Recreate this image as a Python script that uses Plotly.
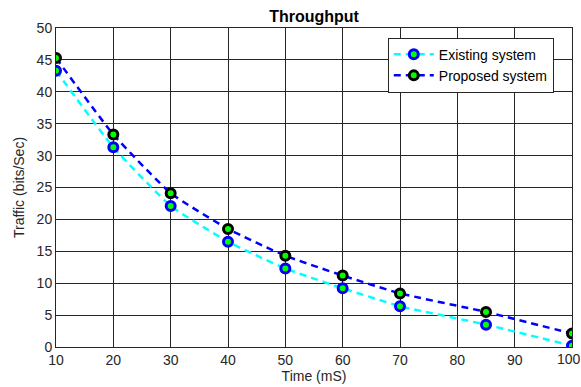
import plotly.graph_objects as go

time_ms = [10, 20, 30, 40, 50, 60, 70, 85, 100]
existing = [43.3, 31.3, 22.1, 16.5, 12.3, 9.2, 6.4, 3.5, 0.2]
proposed = [45.3, 33.3, 24.1, 18.5, 14.3, 11.2, 8.4, 5.5, 2.1]
x_ticks = [10, 20, 30, 40, 50, 60, 70, 80, 90]
x_last_tick = 100
y_ticks = [0, 5, 10, 15, 20, 25, 30, 35, 40, 45, 50]

font = "Liberation Sans, Arial, sans-serif"

fig = go.Figure()
fig.add_trace(go.Scatter(
    x=time_ms, y=existing, name="Existing system", mode="lines+markers",
    line=dict(color="#00FFFF", width=2.5, dash="7px,5px", shape="spline", smoothing=0.4),
    marker=dict(size=9, color="#00FF00", line=dict(color="#0000FF", width=3)),
))
fig.add_trace(go.Scatter(
    x=time_ms, y=proposed, name="Proposed system", mode="lines+markers",
    line=dict(color="#0000FF", width=2.5, dash="7px,5px", shape="spline", smoothing=0.4),
    marker=dict(size=9, color="#00FF00", line=dict(color="#000000", width=3)),
))

axis_common = dict(
    showgrid=True, gridcolor="#262626", gridwidth=1,
    showline=True, linecolor="#262626", linewidth=1, mirror=True,
    ticks="", zeroline=False, automargin=False,
    tickfont=dict(family=font, size=14, color="#262626"),
)

fig.update_layout(
    width=581, height=387,
    margin=dict(l=56, r=9, t=28, b=40),
    paper_bgcolor="white", plot_bgcolor="white",
    title=dict(text="<b>Throughput</b>", x=0.5405, xanchor="center", y=0.958, yanchor="middle",
               font=dict(family=font, size=16, color="black")),
    xaxis=dict(range=[10, 100], tickvals=x_ticks,
               title=dict(text="Time (mS)", font=dict(family=font, size=14, color="#262626"), standoff=2),
               **axis_common),
    yaxis=dict(range=[0, 50], tickvals=y_ticks,
               title=dict(text="Traffic (bits/Sec)", font=dict(family=font, size=14, color="#262626"), standoff=8),
               **axis_common),
    legend=dict(x=0.643, y=0.97, xanchor="left", yanchor="top",
                bgcolor="white", bordercolor="#262626", borderwidth=1,
                font=dict(family=font, size=14, color="black"),
                tracegroupgap=0, itemwidth=40),
    showlegend=True,
)
# gridline at the last tick coincides with the frame; its label is added as text
fig.add_annotation(x=x_last_tick, y=0, xref="x", yref="paper", text=str(x_last_tick),
                   showarrow=False, xanchor="center", yanchor="top", yshift=-2, xshift=-3,
                   font=dict(family=font, size=14, color="#262626"))

fig.write_html("out.html", config={"displayModeBar": False},
               post_script="document.body.style.margin='0';document.body.style.overflow='hidden';")
